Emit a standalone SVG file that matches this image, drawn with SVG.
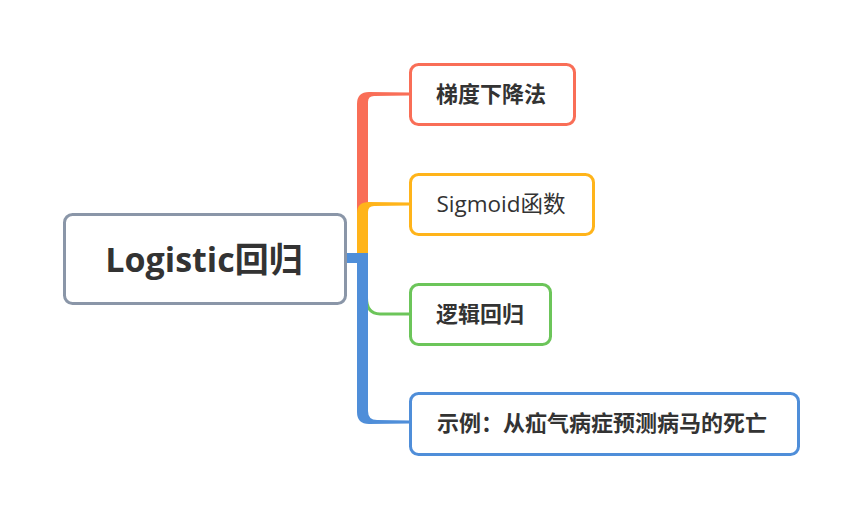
<svg xmlns="http://www.w3.org/2000/svg" width="861" height="517" viewBox="0 0 861 517">
<style>
.box{fill:#fff;stroke-width:3}
.t{font-family:"Open Sans","Noto Sans CJK SC",sans-serif;fill:#333;text-anchor:middle}
.c{font-size:22px;font-weight:bold}
</style>
<rect width="861" height="517" fill="#fff"/>
<g id="connectors">
<path d="M357,255 L357,104 Q357,92 369,92 L410,92.5 L410,95.5 L374,96 Q368,96 368,102 L368,255 Z" fill="#F96E57"/>
<path d="M357,258 L357,213 Q357,202 369,202 L410,202.5 L410,205.5 L374,206 Q368,206 368,212 L368,258 Z" fill="#FFB41A"/>
<path d="M368,298 Q368,312 380,312.5 L410,312.5 L410,315.5 L380,315.5 Q365,315 365,298 Z" fill="#6CC55A"/>
<path d="M346,253 L368,253 L368,411 Q368,420 377,420 L410,420.5 L410,423.5 L369,424 Q357,424 357,412 L357,263 L346,263 Z" fill="#4F8ED9"/>
</g>
<g id="root">
<rect class="box" x="64.5" y="214.5" width="281" height="89" rx="8" stroke="#8A96A8"/>
<text class="t" x="204" y="272" font-size="34" font-weight="bold">Logistic回归</text>
</g>
<g id="n1">
<rect class="box" x="410.5" y="64.5" width="164" height="60" rx="8" stroke="#F96E57"/>
<text class="t c" x="491" y="102">梯度下降法</text>
</g>
<g id="n2">
<rect class="box" x="410.5" y="174.5" width="183" height="60" rx="8" stroke="#FFB41A"/>
<text class="t" x="501" y="212" font-size="22.5">Sigmoid函数</text>
</g>
<g id="n3">
<rect class="box" x="410.5" y="284.5" width="140" height="60" rx="8" stroke="#6CC55A"/>
<text class="t c" x="480" y="322">逻辑回归</text>
</g>
<g id="n4">
<rect class="box" x="410.5" y="393.5" width="388" height="61" rx="8" stroke="#4F8ED9"/>
<text class="t c" x="602" y="431">示例：从疝气病症预测病马的死亡</text>
</g>
</svg>
